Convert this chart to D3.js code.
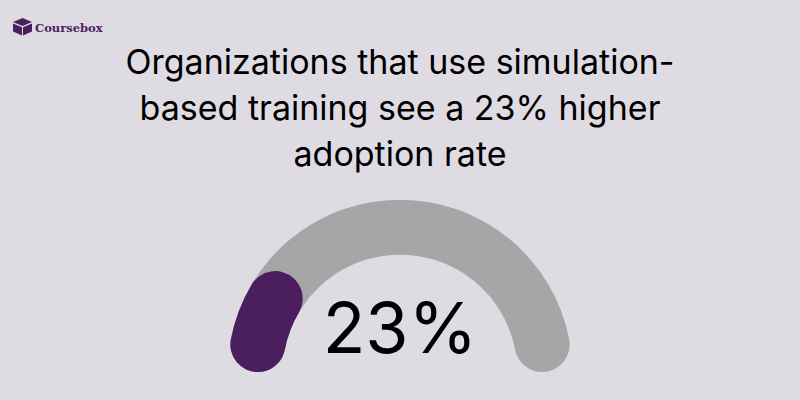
<!doctype html>
<html lang="en">
	<head>
		<meta charset="UTF-8">
		<title>Simulation-based training adoption</title>
		<style type="text/css" media="screen">
			html, body { margin: 0; padding: 0; background: #dfdbe3; }
			svg { display: block; }
			.title { font-family: Inter, sans-serif; font-size: 34px; fill: #000; text-anchor: middle; }
			.big { font-family: Inter, sans-serif; font-size: 70px; fill: #000; text-anchor: middle; }
			.brand { font-family: "DejaVu Serif", serif; font-size: 11.5px; font-weight: bold; fill: #4b1f5e; }
		</style>
	</head>
	<body>
		<svg id="chart" width="800" height="400"></svg>
		<script src="https://cdnjs.cloudflare.com/ajax/libs/d3/7.8.5/d3.min.js"></script>
		<script>
		var titleLines = ["Organizations that use simulation-", "based training see a 23% higher", "adoption rate"];
		var gaugeDomain = [0, 100];
		var gaugeValue = [23];
		var brandName = "Coursebox";

		var svg = d3.select("#chart");

		// 0-100 runs over the half circle, the rounded corners sit inside it
		var angle = d3.scaleLinear().domain(gaugeDomain).range([-Math.PI / 2, Math.PI / 2]);

		var arc = d3.arc()
			.innerRadius(117.3)
			.outerRadius(172.3)
			.cornerRadius(27.5);

		var gauge = svg.append("g").attr("transform", "translate(400,372)");

		gauge.append("path")
			.attr("fill", "#a6a6a6")
			.attr("d", arc({startAngle: angle(gaugeDomain[0]), endAngle: angle(gaugeDomain[1])}));

		gauge.selectAll("path.value")
			.data(gaugeValue)
			.enter().append("path")
			.attr("class", "value")
			.attr("fill", "#4b1f5e")
			.attr("d", function(d) { return arc({startAngle: angle(0), endAngle: angle(d)}); });

		svg.append("text")
			.attr("class", "big")
			.attr("x", 400)
			.attr("y", 353)
			.text(gaugeValue[0] + "%");

		svg.selectAll("text.title")
			.data(titleLines)
			.enter().append("text")
			.attr("class", "title")
			.attr("x", 400)
			.attr("y", function(d, i) { return 74 + i * 46; })
			.text(function(d) { return d; });

		// logo
		var logo = svg.append("g").attr("fill", "#4b1f5e");
		logo.append("path").attr("d", "M13,22 L22.5,18 L32,22 L22.5,26 Z");
		logo.append("path").attr("d", "M13,23.5 L22,27.2 L22,35.5 L13,31.5 Z");
		logo.append("path").attr("d", "M32,23.5 L23,27.2 L23,35.5 L32,31.5 Z");
		svg.append("text")
			.attr("class", "brand")
			.attr("x", 35)
			.attr("y", 32)
			.text(brandName);
		</script>
	</body>
</html>
